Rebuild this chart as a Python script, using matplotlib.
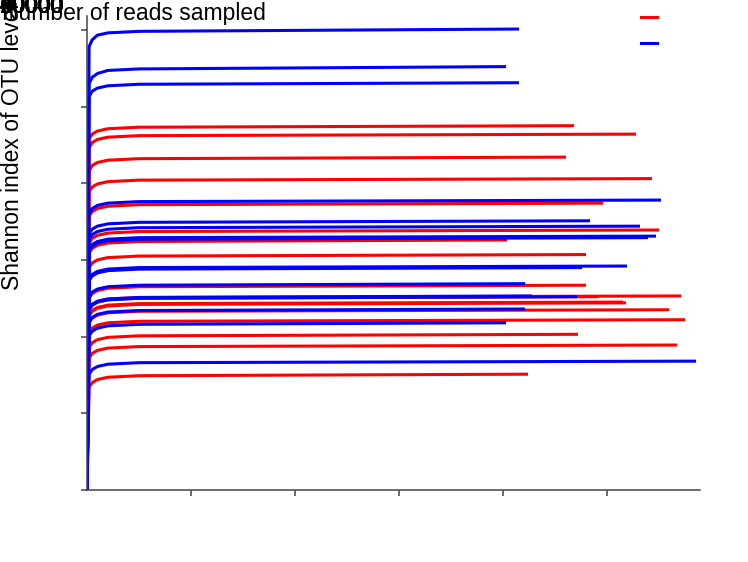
import matplotlib
matplotlib.use("Agg")
import matplotlib.pyplot as plt
from matplotlib.lines import Line2D

plt.rcParams['font.family'] = ['Liberation Sans', 'DejaVu Sans']

# group of each sample (R = red group, B = blue group)
grupos = ['B', 'B', 'B', 'R', 'R', 'R', 'R', 'B', 'R', 'B', 'B', 'R', 'B', 'B', 'R', 'R', 'B',
          'B', 'B', 'R', 'B', 'B', 'R', 'R', 'R', 'R', 'B', 'R', 'R', 'B', 'R', 'R', 'B', 'R']

# total reads per sample (last point of each curve)
reads_total = [41540, 40290, 41540, 46830, 52790, 46060, 54330, 55190, 49620, 48370, 53170,
               55000, 54710, 53940, 40380, 47980, 51920, 47600, 42120, 47980, 42790, 47120,
               49130, 57120, 51540, 51830, 42120, 55960, 57500, 40290, 47210, 56730, 58560, 42400]

# shannon index read at 200, 500, 1000, 2000, 5000 reads and at the end
shannon_200 = [5.78, 5.30, 5.13, 4.58, 4.46, 4.16, 3.89, 3.60, 3.57, 3.34, 3.27, 3.22, 3.14,
               3.12, 3.09, 2.90, 2.76, 2.73, 2.52, 2.50, 2.36, 2.35, 2.35, 2.36, 2.28, 2.27,
               2.19, 2.18, 2.05, 2.01, 1.86, 1.72, 1.51, 1.34]
shannon_500 = [5.87, 5.38, 5.20, 4.64, 4.53, 4.23, 3.95, 3.67, 3.63, 3.40, 3.33, 3.28, 3.20,
               3.18, 3.15, 2.96, 2.81, 2.79, 2.58, 2.56, 2.42, 2.41, 2.41, 2.42, 2.34, 2.33,
               2.25, 2.24, 2.11, 2.07, 1.92, 1.78, 1.57, 1.40]
shannon_1000 = [5.93, 5.43, 5.24, 4.68, 4.57, 4.27, 3.99, 3.71, 3.67, 3.44, 3.37, 3.32, 3.24,
                3.22, 3.19, 3.00, 2.85, 2.83, 2.62, 2.60, 2.46, 2.45, 2.45, 2.46, 2.38, 2.37,
                2.29, 2.28, 2.15, 2.11, 1.96, 1.82, 1.61, 1.44]
shannon_2000 = [5.96, 5.47, 5.27, 4.71, 4.60, 4.30, 4.02, 3.74, 3.70, 3.47, 3.40, 3.35, 3.27,
                3.25, 3.22, 3.03, 2.88, 2.86, 2.65, 2.63, 2.49, 2.48, 2.48, 2.49, 2.41, 2.40,
                2.32, 2.31, 2.18, 2.14, 1.99, 1.85, 1.64, 1.47]
shannon_5000 = [5.98, 5.49, 5.29, 4.73, 4.62, 4.32, 4.04, 3.76, 3.72, 3.49, 3.42, 3.37, 3.29,
                3.27, 3.24, 3.05, 2.90, 2.88, 2.67, 2.65, 2.51, 2.50, 2.50, 2.51, 2.43, 2.42,
                2.34, 2.33, 2.20, 2.16, 2.01, 1.87, 1.66, 1.49]
shannon_fim = [6.01, 5.52, 5.31, 4.75, 4.64, 4.34, 4.06, 3.78, 3.74, 3.51, 3.44, 3.39, 3.31,
               3.29, 3.26, 3.07, 2.92, 2.90, 2.69, 2.67, 2.53, 2.52, 2.52, 2.53, 2.45, 2.44,
               2.36, 2.35, 2.22, 2.18, 2.03, 1.89, 1.68, 1.51]

x_ticks = [10000, 20000, 30000, 40000, 50000]
y_ticks = [0, 1, 2, 3, 4, 5, 6]
tick_labels = ['0', '10000', '20000', '30000', '40000', '50000', '60000',
               '0', '1', '2', '3', '4', '5', '6']

cores = {'R': '#ff0000', 'B': '#0000ff'}
cinza = '#444444'

fig = plt.figure(figsize=(7.48, 5.62), dpi=100)
ax = fig.add_axes([87 / 748, 72 / 562, 613 / 748, 474 / 562])

# red first, blue on top
for grupo in ['R', 'B']:
    for i in range(len(grupos)):
        if grupos[i] != grupo:
            continue
        xs = [0, 200, 500, 1000, 2000, 5000, reads_total[i]]
        ys = [0, shannon_200[i], shannon_500[i], shannon_1000[i], shannon_2000[i],
              shannon_5000[i], shannon_fim[i]]
        ax.plot(xs, ys, color=cores[grupo], lw=2.2, solid_capstyle='butt')

ax.set_xlim(0, 58940)
ax.set_ylim(0, 6.18)
ax.set_xticks(x_ticks)
ax.set_yticks(y_ticks)
ax.set_xticklabels([])
ax.set_yticklabels([])
ax.tick_params(direction='out', length=4.5, width=1.1, color=cinza)
for lado in ['top', 'right']:
    ax.spines[lado].set_visible(False)
for lado in ['left', 'bottom']:
    ax.spines[lado].set_color(cinza)
    ax.spines[lado].set_linewidth(1.1)

# tick labels and x label all piled up in the top left corner
for t in tick_labels:
    fig.text(0.0, 1 - 13 / 562, t, fontsize=16.5, ha='left', va='baseline')
fig.text(2 / 748, 1 - 20 / 562, 'Number of reads sampled', fontsize=16.5,
         ha='left', va='baseline')
fig.text(24 / 748, 1 - 290 / 562, 'Shannon index of OTU level', fontsize=16.5,
         rotation=90, ha='right', va='bottom')

handles = [Line2D([], [], color=cores['R'], lw=2.2), Line2D([], [], color=cores['B'], lw=2.2)]
ax.legend(handles, ['', ''], loc='upper left', bbox_to_anchor=(641 / 748, 1 - 7 / 562),
          bbox_transform=fig.transFigure, frameon=False, borderpad=0, borderaxespad=0,
          handlelength=0.7, handletextpad=0, labelspacing=0.12, fontsize=16.5)

fig.savefig('out.png', dpi=100)
